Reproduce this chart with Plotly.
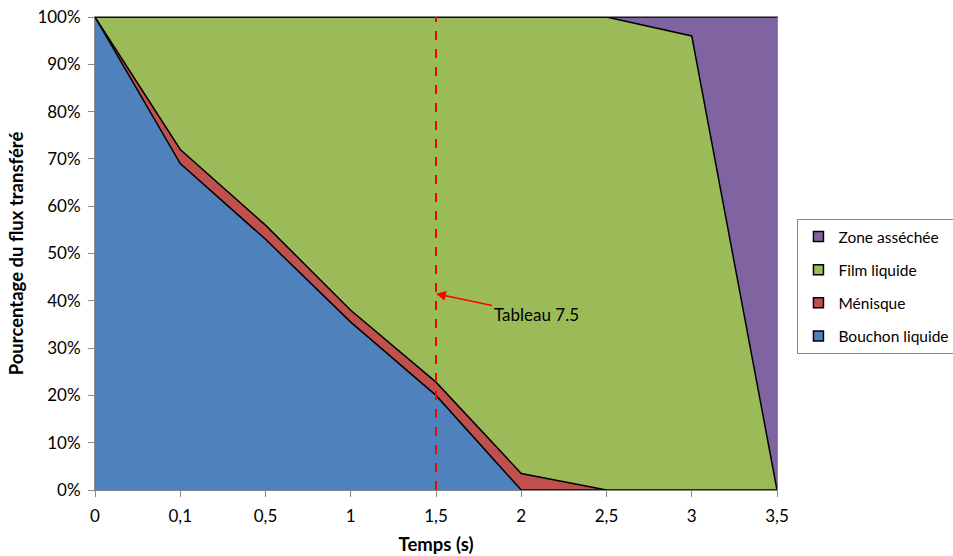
import plotly.graph_objects as go

categories = ["0", "0,1", "0,5", "1", "1,5", "2", "2,5", "3", "3,5"]
bouchon = [100, 69, 53, 35.5, 20, 0, 0, 0, 0]
menisque = [0, 3, 3, 2.5, 2.8, 3.5, 0, 0, 0]
film = [0, 28, 44, 62, 77.2, 96.5, 100, 96, 0]
zone = [0, 0, 0, 0, 0, 0, 0, 4, 100]

series = [
    ("Bouchon liquide", bouchon, "#4F81BD"),
    ("Ménisque", menisque, "#C0504D"),
    ("Film liquide", film, "#9BBB59"),
    ("Zone asséchée", zone, "#8064A2"),
]

FONT = "Lato, 'Open Sans', sans-serif"
fig = go.Figure()
for name, vals, col in series:
    fig.add_trace(go.Scatter(
        x=categories, y=vals, name=name, mode="lines",
        stackgroup="one", fillcolor=col, showlegend=False,
        line=dict(color="black", width=1.5),
    ))
for name, vals, col in reversed(series):
    fig.add_trace(go.Scatter(
        x=[None], y=[None], name=name, mode="markers", legendgroup=name,
        marker=dict(symbol="square", size=10, color=col,
                    line=dict(color="black", width=1.5)),
    ))

fig.add_shape(type="line", xref="x", yref="y", x0=4, x1=4, y0=0, y1=100,
              line=dict(color="#FF0000", width=2, dash="dash"))

fig.add_annotation(x=4, y=41.5, xref="x", yref="y", text="Tableau 7.5",
                   showarrow=True, ax=100, ay=21, arrowhead=2, arrowsize=1.3,
                   arrowwidth=1.5, arrowcolor="#FF0000",
                   font=dict(family=FONT, size=17, color="black"))

fig.update_layout(
    width=953, height=556,
    margin=dict(l=95, r=176, t=17, b=66, autoexpand=False),
    paper_bgcolor="white", plot_bgcolor="white",
    font=dict(family=FONT, size=16, color="black"),
    showlegend=True,
    legend=dict(x=1.03, y=0.573, xanchor="left", yanchor="top",
                traceorder="grouped", bordercolor="#888888", borderwidth=1,
                font=dict(family=FONT, size=15.5), itemwidth=30,
                tracegroupgap=10),
    xaxis=dict(type="category", range=[0, 8], showgrid=False, automargin=False,
               showline=True, linecolor="#888888", linewidth=1, mirror=True,
               ticks="outside", ticklen=6, tickcolor="#888888",
               ticklabelstandoff=5,
               title=dict(text="<b>Temps (s)</b>", font=dict(size=18.5), standoff=12),
               tickfont=dict(size=17)),
    yaxis=dict(range=[0, 100], dtick=10, showgrid=False, ticksuffix="%",
               automargin=False,
               showline=True, linecolor="#888888", linewidth=1, mirror=True,
               ticks="outside", ticklen=6, tickcolor="#888888",
               ticklabelstandoff=4,
               title=dict(text="<b>Pourcentage du flux transféré</b>", font=dict(size=18.5), standoff=8),
               tickfont=dict(size=17)),
)

fig.write_html("out.html", config={"responsive": False, "displayModeBar": False},
               post_script="document.body.style.margin='0';document.body.style.overflow='hidden';")
